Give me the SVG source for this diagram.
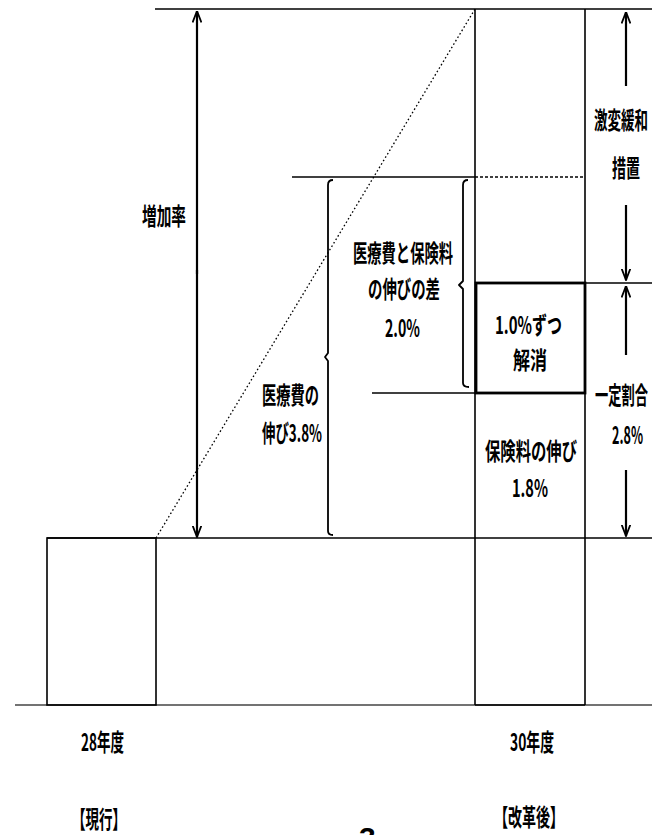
<svg xmlns="http://www.w3.org/2000/svg" width="652" height="835" viewBox="0 0 652 835">
<style>
  .ln { stroke: #000; stroke-width: 1.6; fill: none; }
  .thick { stroke: #000; stroke-width: 2.8; fill: none; }
  .dash { stroke: #000; stroke-width: 1.3; fill: none; stroke-dasharray: 3 2; }
  .dot { stroke: #000; stroke-width: 1.3; fill: none; stroke-dasharray: 1.6 2.4; }
  .arr { stroke: #000; stroke-width: 2.2; fill: none; }
  .brk { stroke: #000; stroke-width: 1.8; fill: none; stroke-linejoin: round; }
  text { font-family: "Noto Sans CJK JP", "Noto Sans CJK SC", sans-serif; font-weight: 700; font-size: 24px; fill: #000; }
</style>
<defs>
  <marker id="head" viewBox="0 0 12 10" refX="11.5" refY="5" markerWidth="12" markerHeight="10" markerUnits="userSpaceOnUse" orient="auto">
    <path d="M0,0.6 L11.5,5 L0,9.4" fill="none" stroke="#000" stroke-width="1.8"/>
  </marker>
</defs>
<rect x="0" y="0" width="652" height="835" fill="#fff"/>

<!-- guide lines -->
<g id="guides">
  <line class="ln" x1="155" y1="9" x2="652" y2="9"/>
  <line class="ln" x1="292" y1="177" x2="475" y2="177"/>
  <line class="dash" x1="475" y1="177" x2="585" y2="177"/>
  <line class="ln" x1="585" y1="283" x2="652" y2="283"/>
  <line class="ln" x1="372" y1="393" x2="476" y2="393"/>
  <line class="ln" x1="47" y1="538" x2="652" y2="538"/>
  <line x1="15" y1="705" x2="652" y2="705" stroke="#444" stroke-width="1.6"/>
  <line class="dot" x1="156" y1="538" x2="475" y2="9"/>
</g>

<!-- current year box -->
<g id="node-current">
  <rect class="ln" x="47" y="538" width="109" height="167"/>
</g>

<!-- reform year column -->
<g id="node-reform">
  <line class="ln" x1="475" y1="9" x2="475" y2="705"/>
  <line class="ln" x1="585" y1="9" x2="585" y2="705"/>
  <line class="ln" x1="475" y1="705" x2="585" y2="705"/>
</g>

<g id="node-resolve">
  <rect class="thick" x="476" y="283" width="109" height="110"/>
  <text x="495" y="334" textLength="67" lengthAdjust="spacingAndGlyphs">1.0%ずつ</text>
  <text x="513" y="369" textLength="34" lengthAdjust="spacingAndGlyphs">解消</text>
</g>

<g id="node-premium">
  <text x="485" y="460" textLength="92" lengthAdjust="spacingAndGlyphs">保険料の伸び</text>
  <text x="512" y="497" textLength="36" lengthAdjust="spacingAndGlyphs">1.8%</text>
</g>

<!-- brackets -->
<g id="node-medical">
  <path class="brk" d="M333,180 Q328,180 328,185 L328,353 L325,357 L328,361 L328,531 Q328,535 333,535"/>
  <text x="262" y="404" textLength="57" lengthAdjust="spacingAndGlyphs">医療費の</text>
  <text x="262" y="442" textLength="60" lengthAdjust="spacingAndGlyphs">伸び3.8%</text>
</g>

<g id="node-diff">
  <path class="brk" d="M468,180 Q463,180 463,185 L463,281 L459,285 L463,289 L463,383 Q463,387 469,387"/>
  <text x="353" y="262" textLength="100" lengthAdjust="spacingAndGlyphs">医療費と保険料</text>
  <text x="368" y="298" textLength="72" lengthAdjust="spacingAndGlyphs">の伸びの差</text>
  <text x="385" y="337" textLength="35" lengthAdjust="spacingAndGlyphs">2.0%</text>
</g>

<g id="node-increase">
  <text x="142" y="225" textLength="44" lengthAdjust="spacingAndGlyphs">増加率</text>
</g>

<g id="node-mitigation">
  <text x="594" y="129" textLength="54" lengthAdjust="spacingAndGlyphs">激変緩和</text>
  <text x="612" y="177" textLength="28" lengthAdjust="spacingAndGlyphs">措置</text>
</g>

<g id="node-fixed">
  <text x="595" y="404" textLength="53" lengthAdjust="spacingAndGlyphs">一定割合</text>
  <text x="612" y="444" textLength="31" lengthAdjust="spacingAndGlyphs">2.8%</text>
</g>

<!-- connectors (arrows) -->
<g id="connectors">
  <line class="arr" x1="197" y1="274" x2="197" y2="11" marker-end="url(#head)"/>
  <line class="arr" x1="197" y1="270" x2="197" y2="537" marker-end="url(#head)"/>
  <line class="arr" x1="626" y1="86" x2="626" y2="12" marker-end="url(#head)"/>
  <line class="arr" x1="626" y1="205" x2="626" y2="280" marker-end="url(#head)"/>
  <line class="arr" x1="626" y1="355" x2="626" y2="286" marker-end="url(#head)"/>
  <line class="arr" x1="626" y1="470" x2="626" y2="536" marker-end="url(#head)"/>
</g>

<!-- axis labels -->
<g id="labels">
  <text x="81" y="751" textLength="43" lengthAdjust="spacingAndGlyphs">28年度</text>
  <text x="510" y="751" textLength="44" lengthAdjust="spacingAndGlyphs">30年度</text>
  <text x="72" y="828" textLength="54" lengthAdjust="spacingAndGlyphs" font-size="28">【現行】</text>
  <text x="494" y="826" textLength="70" lengthAdjust="spacingAndGlyphs" font-size="28">【改革後】</text>
  <text x="359" y="848" style="font-family:'Liberation Sans',sans-serif;font-size:30px;font-weight:700">3</text>
</g>
</svg>
